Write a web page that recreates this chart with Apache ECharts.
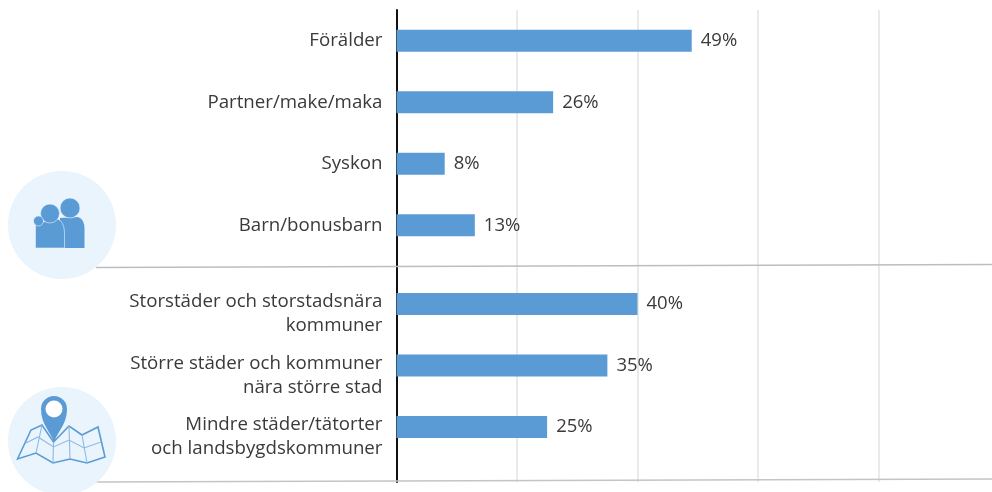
<!DOCTYPE html>
<html>
<head>
<meta charset="utf-8">
<style>
  html, body { margin: 0; padding: 0; background: #fff; }
  #chart { width: 992px; height: 492px; }
</style>
<script src="https://cdn.jsdelivr.net/npm/echarts@6/dist/echarts.min.js"></script>
</head>
<body>
<div id="chart"></div>
<script>
var relationLabels = ["Förälder", "Partner/make/maka", "Syskon", "Barn/bonusbarn"];
var relationValues = [49, 26, 8, 13];
var areaLabels = [
  "Storstäder och storstadsnära\nkommuner",
  "Större städer och kommuner\nnära större stad",
  "Mindre städer/tätorter\noch landsbygdskommuner"
];
var areaValues = [40, 35, 25];
var xTicks = [0, 20, 40, 60, 80];

var fontName = "Open Sans";
var textColor = "#3a3a3a";
var barColor = "#5b9bd5";
var iconBg = "#eaf4fc";

// ikonformer som egna graphic-typer
echarts.graphic.registerShape("bodyRight", echarts.graphic.extendPath("M60 248 L60 218 L78 217 Q84.5 219 84.5 229 L84.5 248 Z", {}));
echarts.graphic.registerShape("bodyLeft", echarts.graphic.extendPath("M35.5 248 L35.5 225 L42 222 L58 219 Q64 222 64.5 232 L64.5 248 Z", {}));
echarts.graphic.registerShape("mapOutline", echarts.graphic.extendPath("M17.5 459 L31 430 L42 425 L53.5 442 L69 426 L82 435 L98 427 L105 457 L87 463 L70 459 L53 463 L36 453 Z", {}));
echarts.graphic.registerShape("mapFolds", echarts.graphic.extendPath("M42 425 L36 453 M69 426 L70 459 M82 435 L87 463 M53.5 442 L53 463 M26 443 L38 437 L53.5 447 L69 440 L84 448 L101 442", {}));
echarts.graphic.registerShape("mapPin", echarts.graphic.extendPath("M54 442.5 C50 431 41 424 41 409 A13 13 0 0 1 67 409 C67 424 58 431 54 442.5 Z", {}));

var myChart = echarts.init(document.getElementById("chart"), null, { renderer: "canvas" });

function barSeries(values, axisIndex) {
  return {
    type: "bar",
    xAxisIndex: axisIndex,
    yAxisIndex: axisIndex,
    barWidth: 22,
    itemStyle: { color: barColor },
    label: {
      show: true,
      position: "right",
      distance: 9,
      formatter: "{c}%",
      fontFamily: fontName,
      fontSize: 18.5,
      color: textColor,
      padding: [2, 0, 0, 0]
    },
    silent: true,
    data: values
  };
}

function hiddenX(index) {
  return {
    type: "value",
    gridIndex: index,
    min: xTicks[0],
    max: xTicks[xTicks.length - 1],
    show: false
  };
}

function catAxis(index, labels) {
  return {
    type: "category",
    gridIndex: index,
    inverse: true,
    data: labels,
    axisLine: { show: false },
    axisTick: { show: false },
    axisLabel: {
      interval: 0,
      hideOverlap: false,
      margin: 14,
      fontFamily: fontName,
      fontSize: 18.7,
      lineHeight: 24,
      color: textColor
    }
  };
}

var option = {
  animation: false,
  backgroundColor: "#ffffff",
  grid: [
    { left: 396.5, right: 113.5, top: 10, height: 246 },
    { left: 396.5, right: 113.5, top: 273.25, height: 184.5 },
    // bakgrund: stödlinjer och svart axel hela vägen
    { left: 396.5, right: 113.5, top: 10, height: 472 },
    // tvåradiga etiketter sitter lite under staplarna
    { left: 396.5, right: 113.5, top: 283.25, height: 184.5 }
  ],
  xAxis: [
    hiddenX(0),
    hiddenX(1),
    {
      type: "value",
      gridIndex: 2,
      min: xTicks[0],
      max: xTicks[xTicks.length - 1],
      interval: 20,
      axisLine: { show: false },
      axisTick: { show: false },
      axisLabel: { show: false },
      splitLine: { show: true, lineStyle: { color: "#e3e3e3", width: 1.5 } }
    },
    hiddenX(3)
  ],
  yAxis: [
    catAxis(0, relationLabels),
    {
      type: "category",
      gridIndex: 1,
      inverse: true,
      data: areaLabels,
      show: false
    },
    {
      type: "category",
      gridIndex: 2,
      data: [""],
      axisLine: { show: true, lineStyle: { color: "#111111", width: 2 } },
      axisTick: { show: false },
      axisLabel: { show: false }
    },
    catAxis(3, areaLabels)
  ],
  series: [barSeries(relationValues, 0), barSeries(areaValues, 1)],
  graphic: [
    // avdelare
    { type: "line", z: 1, shape: { x1: 96, y1: 267.5, x2: 992, y2: 264.5 }, style: { stroke: "#bdbdbd", lineWidth: 1.5 } },
    { type: "line", z: 1, shape: { x1: 96, y1: 482, x2: 992, y2: 479 }, style: { stroke: "#c4c4c4", lineWidth: 1.5 } },
    // ikon: personer
    { type: "circle", z: 2, shape: { cx: 62, cy: 225, r: 54 }, style: { fill: iconBg } },
    { type: "bodyRight", z: 3, style: { fill: barColor } },
    { type: "circle", z: 3, shape: { cx: 70, cy: 208, r: 10 }, style: { fill: barColor, stroke: iconBg, lineWidth: 0.6 } },
    { type: "bodyLeft", z: 4, style: { fill: barColor, stroke: iconBg, lineWidth: 0.6 } },
    { type: "circle", z: 5, shape: { cx: 50, cy: 213.5, r: 9.5 }, style: { fill: barColor, stroke: iconBg, lineWidth: 0.6 } },
    { type: "circle", z: 5, shape: { cx: 38.5, cy: 221, r: 5 }, style: { fill: barColor, stroke: iconBg, lineWidth: 0.6 } },
    // ikon: karta
    { type: "circle", z: 2, shape: { cx: 62, cy: 441, r: 54 }, style: { fill: iconBg } },
    { type: "mapOutline", z: 3, style: { fill: "none", stroke: barColor, lineWidth: 1.6 } },
    { type: "mapFolds", z: 3, style: { fill: "none", stroke: "#8db9e2", lineWidth: 1.1 } },
    { type: "mapPin", z: 4, style: { fill: barColor } },
    { type: "circle", z: 5, shape: { cx: 54, cy: 409, r: 8.5 }, style: { fill: "#ffffff" } }
  ]
};

myChart.setOption(option);
</script>
</body>
</html>
